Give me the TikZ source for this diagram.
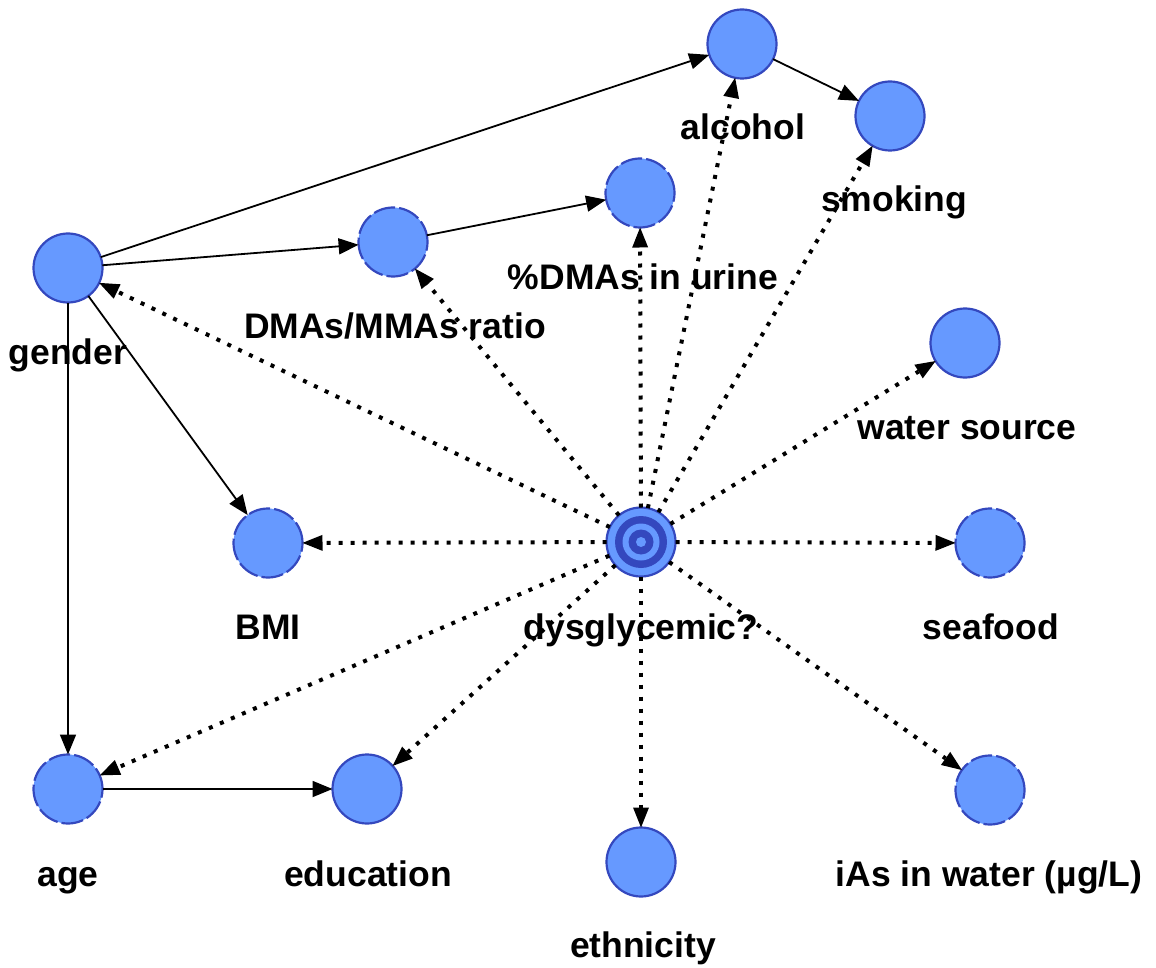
\documentclass[tikz,border=0pt]{standalone}
\usepackage{fontspec}
\setmainfont{Liberation Sans}
\usetikzlibrary{arrows.meta}
\definecolor{nodefill}{RGB}{102,153,255}
\definecolor{nodeline}{RGB}{52,72,190}
\begin{document}
\begin{tikzpicture}[x=1pt,y=-1pt,
  vnode/.style={circle,minimum size=69pt,inner sep=0pt,outer sep=0pt,
    fill=nodefill,draw=nodeline,line width=2.2pt},
  vdash/.style={vnode,dash pattern=on 22pt off 4pt},
  lbl/.style={anchor=base,inner sep=0pt,font=\fontsize{35.5}{40}\selectfont\bfseries},
  solidarr/.style={line width=1.8pt,-{Triangle[length=20pt,width=16pt]}},
  dotarr/.style={line width=4pt,dash pattern=on 4pt off 8pt,
    -{Triangle[length=20pt,width=16pt,line width=0pt]}},
]
\useasboundingbox (0,0) rectangle (1156,968);

% variables
\node[vnode] (gender)  at (68,268) {};
\node[vnode] (alcohol) at (742,44) {};
\node[vnode] (smoking) at (890,116) {};
\node[vdash] (pdma)    at (640,193) {};
\node[vdash] (ratio)   at (393,242) {};
\node[vnode] (water)   at (965,343) {};
\node[vdash] (bmi)     at (268,543) {};
\node[vdash] (seafood) at (990,543) {};
\node[vdash] (age)     at (68,789) {};
\node[vnode] (edu)     at (367,789) {};
\node[vdash] (ias)     at (990,790) {};
\node[vnode] (eth)     at (641,862) {};

% outcome node with concentric rings
\node[vnode] (dys) at (641,542) {};
\fill[nodeline] (dys.center) circle (26pt);
\fill[nodefill] (dys.center) circle (18.5pt);
\fill[nodeline] (dys.center) circle (12.5pt);
\fill[nodefill] (dys.center) circle (5pt);

% causal links
\draw[solidarr] (gender) -- (alcohol);
\draw[solidarr] (gender) -- (ratio);
\draw[solidarr] (ratio) -- (pdma);
\draw[solidarr] (alcohol) -- (smoking);
\draw[solidarr] (gender) -- (bmi);
\draw[solidarr] (gender) -- (age);
\draw[solidarr] (age) -- (edu);

% links from the outcome
\foreach \t in {gender,ratio,pdma,alcohol,smoking,water,seafood,ias,eth,edu,age,bmi}
  \draw[dotarr] (dys) -- (\t);

% labels
\node[lbl] (gender-l)  at (68,364)  {gender};
\node[lbl] (alcohol-l) at (743,140) {alcohol};
\node[lbl] (smoking-l) at (894,212) {smoking};
\node[lbl] (pdma-l)    at (643,289) {\%DMAs in urine};
\node[lbl] (ratio-l)   at (395,338) {DMAs/MMAs ratio};
\node[lbl] (water-l)   at (967,439) {water source};
\node[lbl] (bmi-l)     at (268,639) {BMI};
\node[lbl] (dys-l)     at (641,639) {dysglycemic?};
\node[lbl] (seafood-l) at (991,639) {seafood};
\node[lbl] (age-l)     at (68,886)  {age};
\node[lbl] (edu-l)     at (368,886) {education};
\node[lbl] (ias-l)     at (989,886) {iAs in water (µg/L)};
\node[lbl] (eth-l)     at (643,957) {ethnicity};
\end{tikzpicture}
\end{document}
